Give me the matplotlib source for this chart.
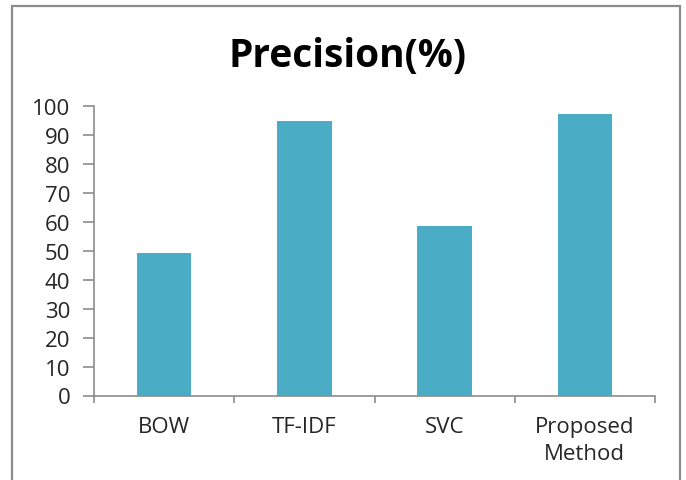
import matplotlib
matplotlib.use("Agg")
import matplotlib.pyplot as plt
from matplotlib.patches import Rectangle
import numpy as np

categories = ["BOW", "TF-IDF", "SVC", "Proposed\nMethod"]
values = [49.1, 94.7, 58.7, 97.2]
yticks = [0, 10, 20, 30, 40, 50, 60, 70, 80, 90, 100]

plt.rcParams['font.family'] = ['Open Sans', 'DejaVu Sans']

W, H = 686, 481
fig = plt.figure(figsize=(W/100, H/100), dpi=100)
fig.patch.set_facecolor('white')

# outer frame
fig.patches.append(Rectangle((12/W, -0.05), (680-12)/W, 1.05 - 7/H, transform=fig.transFigure,
                             fill=False, edgecolor='#8c8c8c', linewidth=1.6, zorder=0))

ax = fig.add_axes([94/W, 1-396.5/H, (655-94)/W, (396.5-107)/H])
x = np.arange(len(categories))
ax.bar(x, values, width=0.39, color='#4BACC6', zorder=2)
ax.set_xlim(-0.5, len(categories)-0.5)
ax.set_ylim(0, 100)
ax.set_yticks(yticks)
ax.set_yticklabels([str(t) for t in yticks])
ax.set_xticks(x)
ax.set_xticklabels(categories, linespacing=1.42)
ax.set_xticks(np.arange(-0.5, len(categories), 1.0), minor=True)

for s in ['top', 'right']:
    ax.spines[s].set_visible(False)
for s in ['left', 'bottom']:
    ax.spines[s].set_color('#8c8c8c')
    ax.spines[s].set_linewidth(1.2)

ax.tick_params(axis='y', direction='out', length=8, width=1.2, color='#8c8c8c',
               labelsize=16, labelcolor='#262626', pad=9)
ax.tick_params(axis='x', which='major', length=0, labelsize=16, labelcolor='#262626', pad=14.5)
ax.tick_params(axis='x', which='minor', direction='out', length=5, width=1.2, color='#8c8c8c')

fig.text(347/W, 1-67/H, "Precision(%)", ha='center', va='baseline', fontsize=28,
         fontweight='bold', color='black')

fig.savefig("out.png", dpi=100)
